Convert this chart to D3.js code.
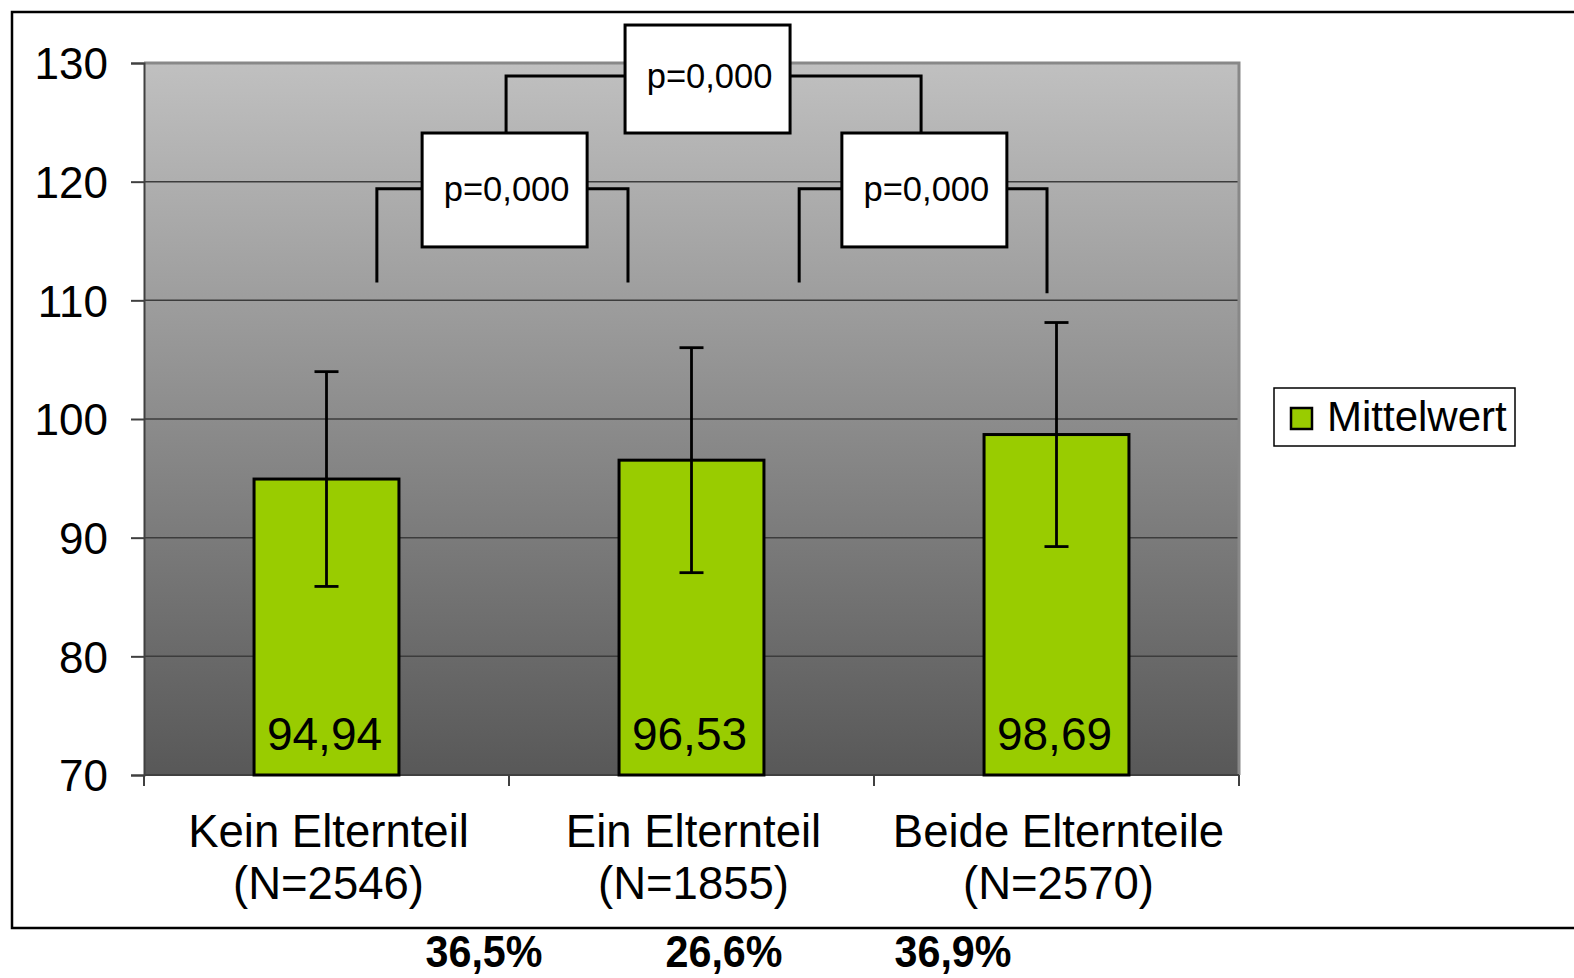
<!DOCTYPE html>
<html><head><meta charset="utf-8">
<script src="https://cdn.jsdelivr.net/npm/d3@7/dist/d3.min.js"></script>
<style>html,body{margin:0;padding:0;background:#fff;} svg{display:block;font-family:"Liberation Sans",Arial,sans-serif;}</style>
</head><body>
<svg id="c" width="1574" height="978"></svg>
<script>
const categories = ["Kein Elternteil", "Ein Elternteil", "Beide Elternteile"];
const nLabels = ["(N=2546)", "(N=1855)", "(N=2570)"];
const means = [94.94, 96.53, 98.69];
const sds = [9.05, 9.48, 9.44];
const valueLabels = ["94,94", "96,53", "98,69"];
const shares = ["36,5%", "26,6%", "36,9%"];
const yTicks = [70, 80, 90, 100, 110, 120, 130];
const seriesName = "Mittelwert";
// significance brackets: category-index positions and data-unit heights
const brackets = [
  {label: "p=0,000", x1: 0.138, x2: 0.826, yLine: 119.4, yLeg1: 111.5, yLeg2: 111.5, boxX: 0.488, boxTop: 124.1, boxBottom: 114.5},
  {label: "p=0,000", x1: 1.295, x2: 1.974, yLine: 119.4, yLeg1: 111.5, yLeg2: 110.6, boxX: 1.638, boxTop: 124.1, boxBottom: 114.5},
  {label: "p=0,000", x1: 0.492, x2: 1.629, yLine: 128.9, yLeg1: 124.1, yLeg2: 124.1, boxX: 1.044, boxTop: 133.2, boxBottom: 124.1}
];

const svg = d3.select("#c");
const L = 144, R = 1239, T = 63, B = 775;

const x = d3.scaleBand().domain(categories).range([L, R]).paddingInner(0.603).paddingOuter(0.3015);
const y = d3.scaleLinear().domain([70, 130]).range([B, T]);
const step = x.step();
const cx = i => L + step * (i + 0.5);

// outer frame
svg.append("path").attr("d", `M1580,12 H12 V928 H1580`).attr("fill", "none").attr("stroke", "#000").attr("stroke-width", 2.5);

// plot background gradient
const defs = svg.append("defs");
const g = defs.append("linearGradient").attr("id", "bg").attr("x1", 0).attr("y1", 0).attr("x2", 0).attr("y2", 1);
g.append("stop").attr("offset", "0%").attr("stop-color", "#c0c0c0");
g.append("stop").attr("offset", "100%").attr("stop-color", "#585858");
svg.append("rect").attr("x", L).attr("y", T).attr("width", R - L).attr("height", B - T).attr("fill", "url(#bg)");

// gridlines
svg.append("g").selectAll("line").data(yTicks.filter(t => t > 70 && t < 130)).join("line")
  .attr("x1", L).attr("x2", R).attr("y1", d => y(d)).attr("y2", d => y(d))
  .attr("stroke", "#3c3c3c").attr("stroke-width", 1.5);
// plot border (top/right)
svg.append("path").attr("d", `M${L},${T} H${R} V${B}`).attr("fill", "none").attr("stroke", "#888").attr("stroke-width", 3);

// y axis
const yAxis = svg.append("g").attr("transform", `translate(${L},0)`)
  .call(d3.axisLeft(y).tickValues(yTicks).tickSize(13).tickPadding(23).tickFormat(d3.format("d")));
yAxis.select(".domain").attr("stroke", "#404040").attr("stroke-width", 2);
yAxis.selectAll(".tick line").attr("stroke", "#404040").attr("stroke-width", 2);
yAxis.selectAll(".tick text").attr("font-size", 44).attr("fill", "#000").attr("dy", "0.36em")
  .attr("font-family", "Liberation Sans, Arial, sans-serif");

// x axis line and ticks at band boundaries
const xs = svg.append("g");
xs.append("line").attr("x1", L).attr("x2", R).attr("y1", B).attr("y2", B).attr("stroke", "#404040").attr("stroke-width", 2);
xs.selectAll("line.t").data(d3.range(categories.length + 1)).join("line").attr("class", "t")
  .attr("x1", i => L + i * step).attr("x2", i => L + i * step).attr("y1", B).attr("y2", B + 11)
  .attr("stroke", "#404040").attr("stroke-width", 2);

// bars
svg.append("g").selectAll("rect").data(means).join("rect")
  .attr("x", (d, i) => x(categories[i])).attr("width", x.bandwidth())
  .attr("y", d => y(d)).attr("height", d => B - y(d))
  .attr("fill", "#99cc00").attr("stroke", "#000").attr("stroke-width", 3);

// error bars
const eb = svg.append("g").attr("stroke", "#000").attr("stroke-width", 2.8);
means.forEach((m, i) => {
  const c = cx(i);
  eb.append("line").attr("x1", c).attr("x2", c).attr("y1", y(m + sds[i])).attr("y2", y(m - sds[i]));
  eb.append("line").attr("x1", c - 12).attr("x2", c + 12).attr("y1", y(m + sds[i])).attr("y2", y(m + sds[i]));
  eb.append("line").attr("x1", c - 12).attr("x2", c + 12).attr("y1", y(m - sds[i])).attr("y2", y(m - sds[i]));
});

// value labels
svg.append("g").selectAll("text").data(valueLabels).join("text")
  .attr("x", (d, i) => cx(i) - 2).attr("y", 750).attr("text-anchor", "middle")
  .attr("font-size", 46).attr("fill", "#000").text(d => d);

// category labels
const cl = svg.append("g").attr("font-size", 45.5).attr("fill", "#000").attr("text-anchor", "middle");
categories.forEach((c, i) => {
  cl.append("text").attr("x", cx(i) + 2).attr("y", 847).text(c);
  cl.append("text").attr("x", cx(i) + 2).attr("y", 899).text(nLabels[i]);
});

// share percentages
const shareX = [484, 724, 953];
svg.append("g").selectAll("text").data(shares).join("text")
  .attr("x", (d, i) => shareX[i]).attr("y", 967).attr("text-anchor", "middle")
  .attr("font-size", 44).attr("font-weight", "bold").attr("textLength", 117).attr("lengthAdjust", "spacingAndGlyphs")
  .text(d => d);

// brackets
const xi = d3.scaleLinear().domain([0, 1]).range([cx(0), cx(1)]);
const bg = svg.append("g");
brackets.forEach(b => {
  bg.append("path")
    .attr("d", `M${xi(b.x1)},${y(b.yLeg1)} V${y(b.yLine)} H${xi(b.x2)} V${y(b.yLeg2)}`)
    .attr("fill", "none").attr("stroke", "#000").attr("stroke-width", 3);
});
brackets.forEach(b => {
  const w = 165, h = y(b.boxBottom) - y(b.boxTop);
  bg.append("rect").attr("x", xi(b.boxX) - w / 2).attr("y", y(b.boxTop)).attr("width", w).attr("height", h)
    .attr("fill", "#fff").attr("stroke", "#000").attr("stroke-width", 3);
  bg.append("text").attr("x", xi(b.boxX) + 2).attr("y", y(b.yLine) + 12).attr("text-anchor", "middle")
    .attr("font-size", 34.5).attr("fill", "#000").text(b.label);
});

// legend
const lg = svg.append("g");
lg.append("rect").attr("x", 1274).attr("y", 388).attr("width", 241).attr("height", 58).attr("fill", "#fff").attr("stroke", "#000").attr("stroke-width", 1.5);
lg.append("rect").attr("x", 1291).attr("y", 408).attr("width", 21).attr("height", 21).attr("fill", "#99cc00").attr("stroke", "#000").attr("stroke-width", 2.5);
lg.append("text").attr("x", 1327).attr("y", 431).attr("font-size", 42).attr("fill", "#000").text(seriesName);
</script>
</body></html>
